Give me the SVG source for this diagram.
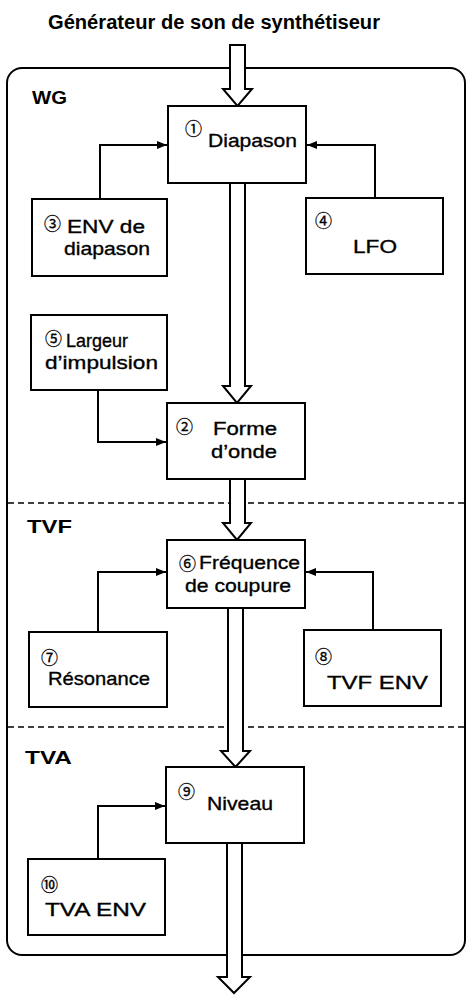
<svg xmlns="http://www.w3.org/2000/svg" width="470" height="998" viewBox="0 0 470 998">
<defs>
<marker id="ah" viewBox="0 0 10 8" refX="10" refY="4" markerWidth="10" markerHeight="8" markerUnits="userSpaceOnUse" orient="auto">
<path d="M0,0 L10,4 L0,8 Z" fill="#000"/>
</marker>
<style>
.box{fill:#fff;stroke:#000;stroke-width:2}
.frame{fill:#fff;stroke:#000;stroke-width:2}
.dash{stroke:#000;stroke-width:1.6;stroke-dasharray:6 4;fill:none}
.conn{fill:none;stroke:#000;stroke-width:2}
.hollow{fill:#fff;stroke:#000;stroke-width:2;stroke-linejoin:miter}
.t{font-family:"Liberation Sans",Arial,sans-serif;font-size:19px;fill:#000;stroke:#000;stroke-width:0.35}
.sec{font-family:"Liberation Sans",Arial,sans-serif;font-size:19px;font-weight:bold;fill:#000}
.title{font-family:"Liberation Sans",Arial,sans-serif;font-size:20px;font-weight:bold;fill:#000}
.n{font-family:"Noto Sans CJK JP","DejaVu Sans",sans-serif;font-size:17px;fill:#000;stroke:#000;stroke-width:0.3}
</style>
</defs>
<text class="title" x="48" y="29" textLength="332" lengthAdjust="spacingAndGlyphs">Générateur de son de synthétiseur</text>
<rect class="frame" x="7" y="68" width="458" height="887" rx="15"/>
<line class="dash" x1="8" y1="503" x2="464" y2="503"/>
<line class="dash" x1="8" y1="727" x2="464" y2="727"/>
<text class="sec" x="32" y="104" textLength="35" lengthAdjust="spacingAndGlyphs">WG</text>
<text class="sec" x="27" y="533" textLength="45" lengthAdjust="spacingAndGlyphs">TVF</text>
<text class="sec" x="25" y="764" textLength="47" lengthAdjust="spacingAndGlyphs">TVA</text>
<g id="connectors">
<path class="conn" d="M100,199 V145 H167" marker-end="url(#ah)"/>
<path class="conn" d="M375,198 V145 H307" marker-end="url(#ah)"/>
<path class="conn" d="M98,390 V442 H166" marker-end="url(#ah)"/>
<path class="conn" d="M98,632 V572 H166" marker-end="url(#ah)"/>
<path class="conn" d="M373,630 V572 H306" marker-end="url(#ah)"/>
<path class="conn" d="M98,859 V806 H165" marker-end="url(#ah)"/>
<polygon class="hollow" points="230,45 245,45 245,89 252,89 237.5,106 223,89 230,89"/>
<polygon class="hollow" points="230,183 245,183 245,386 251,386 237,403 223,386 230,386"/>
<polygon class="hollow" points="230,479 245,479 245,523 251,523 237,540 223,523 230,523"/>
<polygon class="hollow" points="228,608 243,608 243,751 250,751 235.5,767 221,751 228,751"/>
<polygon class="hollow" points="227,843 242,843 242,977 250,977 234,993 218,977 227,977"/>
</g>
<g id="n1">
<rect class="box" x="168" y="106" width="138" height="77"/>
<text class="n" x="185" y="135">①</text>
<text class="t" x="208" y="147" textLength="89" lengthAdjust="spacingAndGlyphs">Diapason</text>
</g>
<g id="n3">
<rect class="box" x="32" y="199" width="135" height="77"/>
<text class="n" x="44" y="230">③</text>
<text class="t" x="67" y="233" textLength="78" lengthAdjust="spacingAndGlyphs">ENV de</text>
<text class="t" x="64" y="255" textLength="86" lengthAdjust="spacingAndGlyphs">diapason</text>
</g>
<g id="n4">
<rect class="box" x="306" y="198" width="137" height="76"/>
<text class="n" x="315" y="227">④</text>
<text class="t" x="353" y="253" textLength="44" lengthAdjust="spacingAndGlyphs">LFO</text>
</g>
<g id="n5">
<rect class="box" x="31" y="315" width="136" height="75"/>
<text class="n" x="45" y="345">⑤</text>
<text class="t" x="66" y="347" textLength="62" lengthAdjust="spacingAndGlyphs">Largeur</text>
<text class="t" x="45" y="369" textLength="113" lengthAdjust="spacingAndGlyphs">d’impulsion</text>
</g>
<g id="n2">
<rect class="box" x="167" y="403" width="138" height="76"/>
<text class="n" x="176" y="433">②</text>
<text class="t" x="213" y="435" textLength="64" lengthAdjust="spacingAndGlyphs">Forme</text>
<text class="t" x="211" y="458" textLength="66" lengthAdjust="spacingAndGlyphs">d’onde</text>
</g>
<g id="n6">
<rect class="box" x="167" y="540" width="138" height="68"/>
<text class="n" x="179" y="570">⑥</text>
<text class="t" x="199" y="569" textLength="101" lengthAdjust="spacingAndGlyphs">Fréquence</text>
<text class="t" x="185" y="592" textLength="106" lengthAdjust="spacingAndGlyphs">de coupure</text>
</g>
<g id="n7">
<rect class="box" x="29" y="632" width="138" height="75"/>
<text class="n" x="41" y="664">⑦</text>
<text class="t" x="48" y="685" textLength="102" lengthAdjust="spacingAndGlyphs">Résonance</text>
</g>
<g id="n8">
<rect class="box" x="304" y="630" width="137" height="76"/>
<text class="n" x="315" y="663">⑧</text>
<text class="t" x="327" y="689" textLength="101" lengthAdjust="spacingAndGlyphs">TVF ENV</text>
</g>
<g id="n9">
<rect class="box" x="166" y="767" width="138" height="76"/>
<text class="n" x="178" y="798">⑨</text>
<text class="t" x="207" y="810" textLength="66" lengthAdjust="spacingAndGlyphs">Niveau</text>
</g>
<g id="n10">
<rect class="box" x="28" y="859" width="137" height="76"/>
<text class="n" x="41" y="891">⑩</text>
<text class="t" x="45" y="916" textLength="101" lengthAdjust="spacingAndGlyphs">TVA ENV</text>
</g>
</svg>
